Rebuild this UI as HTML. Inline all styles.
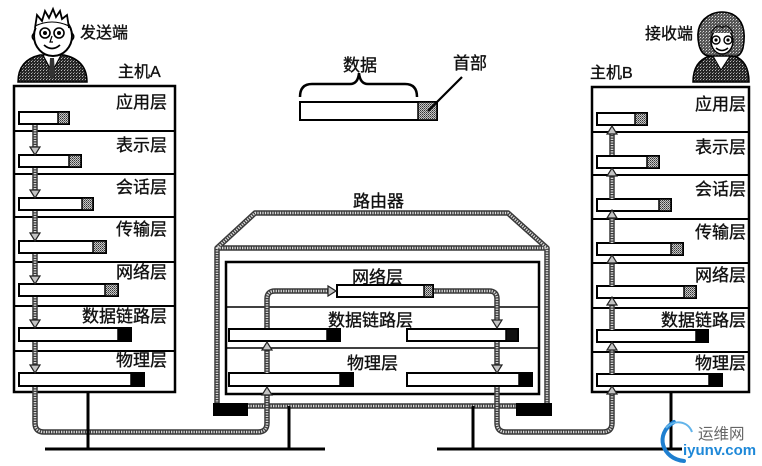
<!DOCTYPE html>
<html><head><meta charset="utf-8"><style>
html,body{margin:0;padding:0;background:#fff;}
svg{display:block;}
.t{font-family:"Liberation Sans","Noto Sans CJK SC",sans-serif;font-size:17px;fill:#111;stroke:#111;stroke-width:0.35;}
.go{stroke:#3a3a3a;stroke-width:5.5;fill:none;stroke-linejoin:round;stroke-linecap:butt;}
.gi{stroke:#d9d9d9;stroke-width:2.6;stroke-dasharray:1.3 1.2;fill:none;stroke-linejoin:round;}
.bx{fill:none;stroke:#000;stroke-width:2.5;}
.dv{stroke:#000;stroke-width:2;}
.bar{fill:#fff;stroke:#000;stroke-width:2;}
.hg{fill:url(#hd);stroke:#000;stroke-width:1.5;}
.hb{fill:#000;stroke:#000;stroke-width:1.5;}
.ah{fill:#c4c4c4;stroke:#222;stroke-width:1.2;stroke-linejoin:miter;}
.bl{stroke:#000;stroke-width:3;fill:none;}
</style></head><body>
<svg width="762" height="466" viewBox="0 0 762 466" xmlns="http://www.w3.org/2000/svg">
<defs>
<pattern id="hd" patternUnits="userSpaceOnUse" width="2" height="2">
<rect width="2" height="2" fill="#c8c8c8"/><rect width="1" height="1" fill="#333"/><rect x="1" y="1" width="1" height="1" fill="#666"/>
</pattern>
<pattern id="suit" patternUnits="userSpaceOnUse" width="3" height="3">
<rect width="3" height="3" fill="#262626"/><rect x="1" y="1" width="1" height="1" fill="#bbb"/><rect x="2" y="0" width="1" height="1" fill="#777"/>
</pattern>
<pattern id="hair" patternUnits="userSpaceOnUse" width="3" height="3">
<rect width="3" height="3" fill="#555"/><rect x="1" y="1" width="1" height="1" fill="#ddd"/><rect x="0" y="2" width="1" height="1" fill="#999"/>
</pattern>
</defs>

<!-- ===== Man icon ===== -->
<path d="M18,82 Q18,60 40,55 L64,55 Q87,60 87,82 Z" fill="url(#suit)" stroke="#000" stroke-width="1.5"/>
<polygon points="43,55 52,72 61,55" fill="#fff" stroke="#000" stroke-width="1"/>
<polygon points="50,58 54,58 55,74 52,79 49,74" fill="#333"/>
<ellipse cx="53" cy="36" rx="19" ry="20" fill="#fff" stroke="#000" stroke-width="2"/>
<path d="M35,28 L37,15 L42,21 L45,11 L49,18 L53,9 L56,17 L60,11 L62,19 L67,15 L69,28" fill="#fff" stroke="#000" stroke-width="1.8" stroke-linejoin="miter"/>
<path d="M35,26 Q52,18 69,26" fill="none" stroke="#000" stroke-width="1"/>
<circle cx="45" cy="33" r="5" fill="#fff" stroke="#000" stroke-width="1.6"/>
<circle cx="45" cy="33" r="2" fill="#000"/>
<circle cx="59" cy="33" r="5" fill="#fff" stroke="#000" stroke-width="1.6"/>
<circle cx="59" cy="33" r="2" fill="#000"/>
<path d="M52,36 L50,42 L53,42" fill="none" stroke="#000" stroke-width="1.2"/>
<path d="M44,45 Q52,52 60,45" fill="none" stroke="#000" stroke-width="1.8"/>
<path d="M34,33 Q30,37 35,41" fill="none" stroke="#000" stroke-width="1.4"/>
<path d="M72,33 Q76,37 71,41" fill="none" stroke="#000" stroke-width="1.4"/>
<text class="t" x="80" y="38" style="font-size:16px">发送端</text>
<text class="t" x="118" y="77" style="font-size:16px">主机A</text>

<!-- ===== Woman icon ===== -->
<path d="M693,82 Q693,61 710,56 L734,56 Q749,61 749,82 Z" fill="url(#suit)" stroke="#000" stroke-width="1.5"/>
<polygon points="713,56 721,70 730,56" fill="#fff" stroke="#000" stroke-width="1"/>
<path d="M699,45 Q694,22 712,14 Q722,10 732,14 Q748,22 743,48 Q740,58 733,56 L712,56 Q702,57 699,45 Z" fill="url(#hair)" stroke="#000" stroke-width="1.6"/>
<ellipse cx="722" cy="41" rx="11" ry="13" fill="#fff" stroke="#000" stroke-width="1.5"/>
<path d="M711,33 Q718,22 722,28 Q727,22 733,33" fill="url(#hair)" stroke="#000" stroke-width="1"/>
<circle cx="716" cy="40" r="4" fill="#fff" stroke="#000" stroke-width="1.4"/>
<circle cx="716" cy="40" r="1.6" fill="#000"/>
<circle cx="728" cy="40" r="4" fill="#fff" stroke="#000" stroke-width="1.4"/>
<circle cx="728" cy="40" r="1.6" fill="#000"/>
<path d="M716,48 Q722,53 728,48" fill="none" stroke="#000" stroke-width="1.5"/>
<text class="t" x="645" y="39" style="font-size:16px">接收端</text>
<text class="t" x="590" y="78" style="font-size:16px">主机B</text>

<!-- ===== Top data/header legend ===== -->
<text class="t" x="343" y="71">数据</text>
<text class="t" x="453" y="69">首部</text>
<path d="M300,97 Q300,84 312,84 L350,84 Q358,84 359,73 Q360,84 368,84 L405,84 Q417,84 417,97" fill="none" stroke="#000" stroke-width="2.5"/>
<rect class="bar" x="300" y="102" width="137" height="18"/>
<rect class="hg" x="418" y="102" width="19" height="18"/>
<line x1="428" y1="111" x2="462" y2="77" stroke="#000" stroke-width="2.2"/>

<!-- ===== Host A ===== -->
<rect class="bx" x="14" y="86" width="161" height="306"/>
<line class="dv" x1="14" y1="131" x2="175" y2="131"/>
<line class="dv" x1="14" y1="174" x2="175" y2="174"/>
<line class="dv" x1="14" y1="217" x2="175" y2="217"/>
<line class="dv" x1="14" y1="262" x2="175" y2="262"/>
<line class="dv" x1="14" y1="306" x2="175" y2="306"/>
<line class="dv" x1="14" y1="351" x2="175" y2="351"/>
<g text-anchor="end">
<text class="t" x="167" y="108">应用层</text>
<text class="t" x="167" y="151">表示层</text>
<text class="t" x="167" y="193">会话层</text>
<text class="t" x="167" y="235">传输层</text>
<text class="t" x="167" y="278">网络层</text>
<text class="t" x="167" y="322">数据链路层</text>
<text class="t" x="167" y="366">物理层</text>
</g>
<rect class="bar" x="19" y="112" width="50" height="12"/><rect class="hg" x="58" y="112" width="11" height="12"/>
<rect class="bar" x="19" y="155" width="62" height="12"/><rect class="hg" x="69" y="155" width="12" height="12"/>
<rect class="bar" x="19" y="198" width="74" height="12"/><rect class="hg" x="82" y="198" width="11" height="12"/>
<rect class="bar" x="19" y="241" width="87" height="12"/><rect class="hg" x="93" y="241" width="13" height="12"/>
<rect class="bar" x="19" y="284" width="99" height="12"/><rect class="hg" x="105" y="284" width="13" height="12"/>
<rect class="bar" x="19" y="328" width="112" height="13"/><rect class="hb" x="118" y="328" width="13" height="13"/>
<rect class="bar" x="19" y="373" width="125" height="13"/><rect class="hb" x="131" y="373" width="13" height="13"/>
<g>
<path class="go" d="M35,125 V149 M35,168 V192 M35,211 V235 M35,254 V278 M35,297 V322 M35,342 V367"/>
<path class="gi" d="M35,125 V149 M35,168 V192 M35,211 V235 M35,254 V278 M35,297 V322 M35,342 V367"/>
<polygon class="ah" points="30,147 40,147 35,155"/>
<polygon class="ah" points="30,190 40,190 35,198"/>
<polygon class="ah" points="30,233 40,233 35,241"/>
<polygon class="ah" points="30,276 40,276 35,284"/>
<polygon class="ah" points="30,320 40,320 35,328"/>
<polygon class="ah" points="30,365 40,365 35,373"/>
</g>

<!-- ===== Host B ===== -->
<rect class="bx" x="592" y="87" width="157" height="305"/>
<line class="dv" x1="592" y1="132" x2="749" y2="132"/>
<line class="dv" x1="592" y1="175" x2="749" y2="175"/>
<line class="dv" x1="592" y1="219" x2="749" y2="219"/>
<line class="dv" x1="592" y1="263" x2="749" y2="263"/>
<line class="dv" x1="592" y1="308" x2="749" y2="308"/>
<line class="dv" x1="592" y1="352" x2="749" y2="352"/>
<g text-anchor="end">
<text class="t" x="746" y="110">应用层</text>
<text class="t" x="746" y="153">表示层</text>
<text class="t" x="746" y="195">会话层</text>
<text class="t" x="746" y="238">传输层</text>
<text class="t" x="746" y="281">网络层</text>
<text class="t" x="746" y="326">数据链路层</text>
<text class="t" x="746" y="369">物理层</text>
</g>
<rect class="bar" x="597" y="113" width="50" height="12"/><rect class="hg" x="635" y="113" width="12" height="12"/>
<rect class="bar" x="597" y="156" width="62" height="12"/><rect class="hg" x="647" y="156" width="12" height="12"/>
<rect class="bar" x="597" y="199" width="74" height="12"/><rect class="hg" x="659" y="199" width="12" height="12"/>
<rect class="bar" x="597" y="243" width="86" height="12"/><rect class="hg" x="671" y="243" width="12" height="12"/>
<rect class="bar" x="597" y="286" width="99" height="12"/><rect class="hg" x="684" y="286" width="12" height="12"/>
<rect class="bar" x="597" y="330" width="111" height="12"/><rect class="hb" x="696" y="330" width="12" height="12"/>
<rect class="bar" x="597" y="374" width="125" height="12"/><rect class="hb" x="709" y="374" width="13" height="12"/>
<g>
<path class="go" d="M612,155 V132 M612,199 V174 M612,243 V216 M612,286 V261 M612,330 V303 M612,374 V348"/>
<path class="gi" d="M612,155 V132 M612,199 V174 M612,243 V216 M612,286 V261 M612,330 V303 M612,374 V348"/>
<polygon class="ah" points="607,134 617,134 612,126"/>
<polygon class="ah" points="607,176 617,176 612,168"/>
<polygon class="ah" points="607,218 617,218 612,210"/>
<polygon class="ah" points="607,263 617,263 612,255"/>
<polygon class="ah" points="607,305 617,305 612,297"/>
<polygon class="ah" points="607,350 617,350 612,342"/>
</g>

<!-- ===== Router ===== -->
<text class="t" x="353" y="207">路由器</text>
<path class="go" d="M217,404 V248 L255,213 H508 L547,248 V404 M217,248 H547 M248,406 H516"/>
<path class="gi" d="M217,404 V248 L255,213 H508 L547,248 V404 M217,248 H547 M248,406 H516"/>
<rect class="bx" x="226" y="262" width="313" height="132"/>
<line x1="226" y1="307" x2="539" y2="307" stroke="#000" stroke-width="1.6"/>
<line x1="226" y1="348" x2="539" y2="348" stroke="#000" stroke-width="1.6"/>
<rect x="213" y="403" width="35" height="13" fill="#000"/>
<rect x="516" y="403" width="36" height="13" fill="#000"/>
<text class="t" x="352" y="283">网络层</text>
<text class="t" x="328" y="326">数据链路层</text>
<text class="t" x="347" y="369">物理层</text>
<rect class="bar" x="337" y="285" width="96" height="12"/><rect class="hg" x="424" y="285" width="9" height="12"/>
<rect class="bar" x="229" y="329" width="111" height="12"/><rect class="hb" x="327" y="329" width="13" height="12"/>
<rect class="bar" x="407" y="329" width="111" height="12"/><rect x="506" y="329" width="12" height="12" fill="#111" stroke="#000" stroke-width="1.5"/>
<rect class="bar" x="229" y="373" width="124" height="13"/><rect class="hb" x="340" y="373" width="13" height="13"/>
<rect class="bar" x="407" y="373" width="125" height="13"/><rect class="hb" x="519" y="373" width="13" height="13"/>
<path class="go" d="M267,328 V299 Q267,291 275,291 H329"/>
<path class="gi" d="M267,328 V299 Q267,291 275,291 H329"/>
<polygon class="ah" points="328,286 328,296 336,291"/>
<path class="go" d="M434,291 H489 Q497,291 497,299 V321"/>
<path class="gi" d="M434,291 H489 Q497,291 497,299 V321"/>
<polygon class="ah" points="492,320 502,320 497,328"/>
<path class="go" d="M267,373 V348"/>
<path class="gi" d="M267,373 V348"/>
<polygon class="ah" points="262,350 272,350 267,342"/>
<path class="go" d="M497,342 V366"/>
<path class="gi" d="M497,342 V366"/>
<polygon class="ah" points="492,365 502,365 497,373"/>

<!-- ===== Signal cables (gray) ===== -->
<path class="go" d="M35,387 V423 Q35,432 44,432 H258 Q267,432 267,423 V393"/>
<path class="gi" d="M35,387 V423 Q35,432 44,432 H258 Q267,432 267,423 V393"/>
<polygon class="ah" points="262,395 272,395 267,387"/>
<path class="go" d="M497,387 V423 Q497,432 506,432 H603 Q612,432 612,423 V392"/>
<path class="gi" d="M497,387 V423 Q497,432 506,432 H603 Q612,432 612,423 V392"/>
<polygon class="ah" points="607,394 617,394 612,386"/>

<!-- ===== Black network lines ===== -->
<path class="bl" d="M88,392 V449 M45,449 H325 M289,406 V449 M437,449 H682 M473,406 V449 M671,392 V449"/>

<!-- ===== Watermark ===== -->
<path d="M684,461 C662,459 654,434 674,422" fill="none" stroke="#1e7fd0" stroke-width="4" stroke-linecap="round"/>
<path d="M692,432 C688,421 674,419 666,428" fill="none" stroke="#62b4ea" stroke-width="2"/>
<text x="698" y="439" style="font-family:'Liberation Sans','Noto Sans CJK SC',sans-serif;font-size:15.5px;fill:#666">运维网</text>
<text x="683" y="455" style="font-family:'Liberation Sans',sans-serif;font-size:15px;font-weight:bold;fill:#1e88d8">iyunv.com</text>
</svg>
</body></html>
